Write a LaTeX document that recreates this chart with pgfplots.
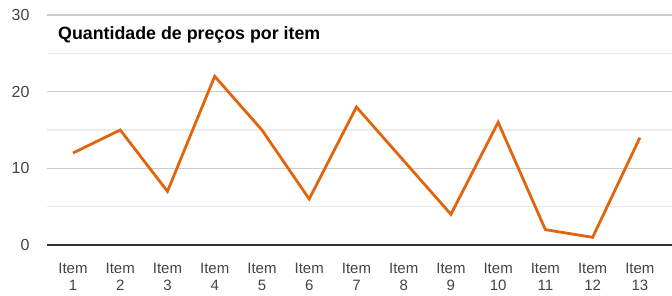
\documentclass[border=0pt]{standalone}
\usepackage{pgfplots}
\pgfplotsset{compat=1.18}
\usepackage{fontspec}
\setmainfont{Liberation Sans}
\definecolor{lineor}{RGB}{226,100,13}
\definecolor{majg}{RGB}{204,204,204}
\definecolor{ming}{RGB}{235,235,235}
\definecolor{axd}{RGB}{51,51,51}
\definecolor{txt}{RGB}{68,68,68}
\begin{document}
\begin{tikzpicture}
\begin{axis}[
  at={(47bp,51bp)}, anchor=south west,
  scale only axis, width=625bp, height=230bp,
  xmin=0.45, xmax=13.68, ymin=0, ymax=30,
  axis line style={draw=none},
  axis x line*=bottom, axis y line*=left,
  xtick={1,...,13},
  xticklabels={Item\\1,Item\\2,Item\\3,Item\\4,Item\\5,Item\\6,Item\\7,Item\\8,Item\\9,Item\\10,Item\\11,Item\\12,Item\\13},
  xticklabel style={align=center, font=\fontsize{15bp}{16.5bp}\selectfont, text=txt, inner sep=0pt, yshift=-18bp},
  ytick={0,10,20,30},
  minor ytick={5,15,25},
  yticklabel style={font=\fontsize{16bp}{18bp}\selectfont, text=txt, xshift=-14bp},
  /pgf/number format/assume math mode=true,
  major tick length=0pt, minor tick length=0pt,
  ymajorgrids, yminorgrids,
  major grid style={draw=majg, line width=1.4bp},
  minor grid style={draw=ming, line width=1.2bp},
  clip=false,
]
\addplot[draw=lineor, line width=2.8bp, line join=miter] coordinates {
(1,12) (2,15) (3,7) (4,22) (5,15) (6,6) (7,18) (8,11) (9,4) (10,16) (11,2) (12,1) (13,14)
};
\draw[axd, line width=2bp] (rel axis cs:0,0) -- (rel axis cs:1,0);
\node[anchor=west, font=\fontsize{17.8bp}{20bp}\selectfont\bfseries, inner sep=0pt] at ([xshift=11bp,yshift=-19.5bp]rel axis cs:0,1) {Quantidade de preços por item};
\end{axis}
\pgfresetboundingbox
\path (0,0) rectangle (672bp,296bp);
\end{tikzpicture}
\end{document}
